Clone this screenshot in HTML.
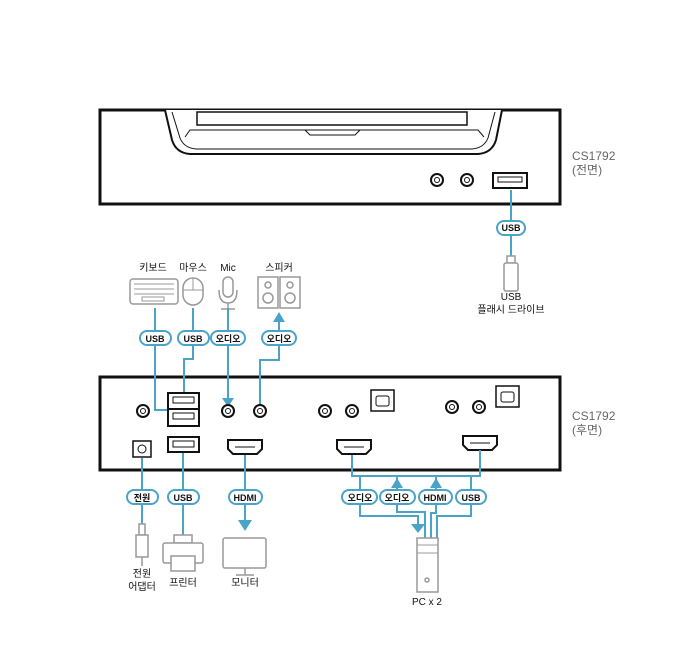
<!DOCTYPE html>
<html><head><meta charset="utf-8"><style>
body{margin:0;background:#fff}
svg{display:block}
text{font-family:"Liberation Sans","Noto Sans CJK KR",sans-serif;font-size:10px;fill:#111;text-anchor:middle}
.pt{font-size:9px;font-weight:bold}
.b{stroke:#4aa3c8;stroke-width:2;fill:none}
.pill{fill:#fff;stroke:#4aa3c8;stroke-width:2}
.g{stroke:#999;stroke-width:1.5;fill:#fff}
.k{stroke:#111;stroke-width:2;fill:#fff}
.side{font-size:12px;fill:#666;text-anchor:start}
</style></head><body>
<svg width="700" height="661" viewBox="0 0 700 661">
<!-- front unit -->
<path d="M100 110 H560 V204 H100 Z" fill="#fff" stroke="#111" stroke-width="3"/>
<path d="M165 110 L172 140 Q176 153 190 154 H478 Q492 153 496 140 L502 110" fill="#fff" stroke="#111" stroke-width="2"/>
<path d="M172 112 L180 138 Q184 148 196 149 H472 Q484 148 488 138 L495 112" fill="none" stroke="#111" stroke-width="1"/>
<rect x="197" y="112" width="270" height="13" fill="#fff" stroke="#111" stroke-width="1.5"/>
<path d="M185 137 L190 130 H478 L484 137" fill="none" stroke="#111" stroke-width="1"/>
<path d="M305 130 L310 135 H355 L360 130" fill="none" stroke="#111" stroke-width="1"/>
<circle cx="437" cy="180" r="6" class="k"/><circle cx="437" cy="180" r="2.5" fill="none" stroke="#111"/>
<circle cx="467" cy="180" r="6" class="k"/><circle cx="467" cy="180" r="2.5" fill="none" stroke="#111"/>
<rect x="493" y="173" width="34" height="15" class="k"/><rect x="498" y="177" width="24" height="5" fill="none" stroke="#111"/>
<text class="side" x="572" y="160">CS1792</text><text class="side" x="572" y="174">(전면)</text>
<!-- front USB -->
<path class="b" d="M511 190 V262"/>
<rect class="pill" x="497" y="221" width="28" height="14" rx="7"/><text class="pt" x="511" y="231">USB</text>
<rect x="507" y="256" width="8" height="7" class="g"/><rect x="504" y="263" width="14" height="28" rx="2" class="g"/>
<text x="511" y="300">USB</text><text x="511" y="313">플래시 드라이브</text>

<!-- back unit -->
<path d="M100 377 H560 V470 H100 Z" fill="#fff" stroke="#111" stroke-width="3"/>
<text class="side" x="572" y="420">CS1792</text><text class="side" x="572" y="434">(후면)</text>
<!-- top peripherals -->
<text x="153" y="271">키보드</text><text x="193" y="271">마우스</text><text x="228" y="271">Mic</text><text x="279" y="271">스피커</text>
<rect x="130" y="279" width="48" height="25" rx="3" class="g"/>
<g fill="none" stroke="#999" stroke-width="1"><path d="M134 284h40M134 289h40M134 294h40"/><rect x="142" y="297" width="22" height="4"/></g>
<rect x="183" y="278" width="20" height="27" rx="10" class="g"/><path d="M193 278 V290 M183 290 H203" stroke="#999" fill="none"/>
<rect x="223" y="277" width="10" height="20" rx="5" class="g"/><path d="M219 290 Q219 303 228 303 Q237 303 237 290 M228 303 V309 M221 309 H235" stroke="#999" stroke-width="1.5" fill="none"/>
<rect x="258" y="277" width="20" height="31" class="g"/><rect x="280" y="277" width="20" height="31" class="g"/>
<circle cx="268" cy="285" r="3" class="g"/><circle cx="268" cy="298" r="5" class="g"/><circle cx="290" cy="285" r="3" class="g"/><circle cx="290" cy="298" r="5" class="g"/>
<!-- top cables -->
<path class="b" d="M155 308 V410 H168"/>
<path class="b" d="M193 308 V359 H184 V393"/>
<path class="b" d="M228 308 V400"/><path d="M222 398 H234 L228 407 Z" fill="#4aa3c8"/>
<path class="b" d="M260 405 V360 H279 V321"/><path d="M273 322 H285 L279 312 Z" fill="#4aa3c8"/>
<rect class="pill" x="140" y="331" width="31" height="14" rx="7"/><text class="pt" x="155" y="342">USB</text>
<rect class="pill" x="178" y="331" width="31" height="14" rx="7"/><text class="pt" x="193" y="342">USB</text>
<rect class="pill" x="211" y="331" width="34" height="14" rx="7"/><text class="pt" x="228" y="342">오디오</text>
<rect class="pill" x="262" y="331" width="34" height="14" rx="7"/><text class="pt" x="279" y="342">오디오</text>
<!-- back ports -->
<g>
<circle cx="143" cy="411" r="6" class="k"/><circle cx="143" cy="411" r="2.5" fill="none" stroke="#111"/>
<circle cx="228" cy="411" r="6" class="k"/><circle cx="228" cy="411" r="2.5" fill="none" stroke="#111"/>
<circle cx="260" cy="411" r="6" class="k"/><circle cx="260" cy="411" r="2.5" fill="none" stroke="#111"/>
<circle cx="325" cy="411" r="6" class="k"/><circle cx="325" cy="411" r="2.5" fill="none" stroke="#111"/>
<circle cx="352" cy="411" r="6" class="k"/><circle cx="352" cy="411" r="2.5" fill="none" stroke="#111"/>
<circle cx="452" cy="407" r="6" class="k"/><circle cx="452" cy="407" r="2.5" fill="none" stroke="#111"/>
<circle cx="479" cy="407" r="6" class="k"/><circle cx="479" cy="407" r="2.5" fill="none" stroke="#111"/>
</g>
<rect x="371" y="390" width="23" height="21" fill="#fff" stroke="#111" stroke-width="1.5"/><rect x="376" y="396" width="13" height="10" rx="2" fill="none" stroke="#111"/>
<rect x="496" y="386" width="23" height="21" fill="#fff" stroke="#111" stroke-width="1.5"/><rect x="501" y="392" width="13" height="10" rx="2" fill="none" stroke="#111"/>
<rect x="168" y="393" width="31" height="33" class="k"/><path d="M168 409 H199" stroke="#111" stroke-width="2"/>
<rect x="173" y="397" width="21" height="6" fill="none" stroke="#111"/><rect x="173" y="413" width="21" height="6" fill="none" stroke="#111"/>
<rect x="168" y="437" width="31" height="15" class="k"/><rect x="173" y="441" width="21" height="6" fill="none" stroke="#111"/>
<rect x="133" y="441" width="18" height="16" fill="#fff" stroke="#111" stroke-width="1.5"/><circle cx="142" cy="449" r="4" fill="none" stroke="#111"/>
<path d="M228 440 H262 V449 L257 454 H233 L228 449 Z" class="k"/><path d="M235 447 H255" stroke="#111"/>
<path d="M337 440 H371 V449 L366 454 H342 L337 449 Z" class="k"/><path d="M344 447 H364" stroke="#111"/>
<path d="M463 436 H497 V445 L492 450 H468 L463 445 Z" class="k"/><path d="M470 443 H490" stroke="#111"/>
<!-- bottom left -->
<path class="b" d="M142 458 V524"/><path class="b" d="M183 453 V535"/><path class="b" d="M245 455 V522"/>
<path d="M238 520 H252 L245 531 Z" fill="#4aa3c8"/>
<rect class="pill" x="127" y="490" width="31" height="14" rx="7"/><text class="pt" x="142" y="501">전원</text>
<rect class="pill" x="168" y="490" width="31" height="14" rx="7"/><text class="pt" x="183" y="501">USB</text>
<rect class="pill" x="229" y="490" width="33" height="14" rx="7"/><text class="pt" x="245" y="501">HDMI</text>
<rect x="139" y="524" width="6" height="11" class="g"/><rect x="136" y="535" width="12" height="22" class="g"/><path d="M142 557 V566" stroke="#999" stroke-width="1.5"/>
<text x="142" y="577">전원</text><text x="142" y="590">어댑터</text>
<rect x="174" y="535" width="18" height="8" class="g"/><rect x="163" y="543" width="40" height="20" rx="2" class="g"/><rect x="171" y="556" width="24" height="15" class="g"/>
<text x="183" y="586">프린터</text>
<rect x="223" y="538" width="43" height="30" rx="2" class="g"/><path d="M245 568 V575 M236 575 H254" stroke="#999" stroke-width="1.5"/>
<text x="245" y="586">모니터</text>
<!-- PC connections -->
<path class="b" d="M352 455 V476 H480 V450"/>
<path class="b" d="M397 476 V490 M436 476 V490"/>
<path d="M391 488 H403 L397 478 Z" fill="#4aa3c8"/><path d="M430 488 H442 L436 478 Z" fill="#4aa3c8"/>
<path class="b" d="M360 476 V516 H418 V526"/><path d="M411 524 H425 L418 533 Z" fill="#4aa3c8"/>
<path class="b" d="M397 504 V512 H425 V538"/>
<path class="b" d="M436 504 V513 H431 V538"/>
<path class="b" d="M471 476 V516 H437 V538"/>
<rect class="pill" x="342" y="490" width="35" height="14" rx="7"/><text class="pt" x="360" y="501">오디오</text>
<rect class="pill" x="380" y="490" width="35" height="14" rx="7"/><text class="pt" x="397" y="501">오디오</text>
<rect class="pill" x="419" y="490" width="33" height="14" rx="7"/><text class="pt" x="435" y="501">HDMI</text>
<rect class="pill" x="456" y="490" width="30" height="14" rx="7"/><text class="pt" x="471" y="501">USB</text>
<rect x="417" y="538" width="21" height="54" class="g"/><path d="M417 545 H438 M417 553 H438" stroke="#999"/><circle cx="427" cy="580" r="2" class="g"/>
<text x="427" y="605">PC x 2</text>
</svg>
</body></html>
